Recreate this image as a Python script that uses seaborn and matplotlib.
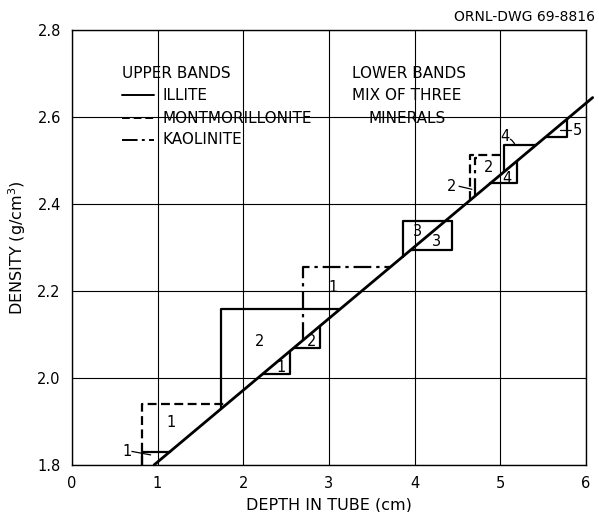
import numpy as np
import pandas as pd
import matplotlib
matplotlib.use("Agg")
import matplotlib.pyplot as plt
import seaborn as sns

# ---- data ----
# main density-gradient line (depth cm, density g/cm3)
line_x = [0.96, 6.08]
line_y = [1.80, 2.645]

# upper bands: vertical at x from line up to y, then horizontal to line (or to 'end')
upper_kind = ["ILLITE", "MONTMORILLONITE", "ILLITE", "KAOLINITE", "ILLITE",
              "MONTMORILLONITE", "KAOLINITE", "ILLITE"]
upper_x = [0.82, 0.82, 1.74, 2.70, 3.86, 4.65, 4.71, 5.05]
upper_y = [1.83, 1.94, 2.159, 2.255, 2.361, 2.513, 2.505, 2.536]
upper_end = [np.nan, np.nan, np.nan, np.nan, 4.44, 5.05, 4.73, np.nan]

# lower bands (mix of three minerals): horizontal at y from line to x, then vertical up
lower_y = [2.009, 2.069, 2.294, 2.448, 2.555]
lower_x = [2.55, 2.90, 4.44, 5.20, 5.78]
lower_top = [np.nan, np.nan, 2.361, np.nan, np.nan]

# band number labels
lab_text = ["1", "1", "2", "1", "2", "1", "3", "3", "2", "2", "4", "4", "5"]
lab_x = [0.645, 1.16, 2.19, 2.44, 2.80, 3.05, 4.03, 4.26, 4.43, 4.86, 5.08, 5.05, 5.90]
lab_y = [1.830, 1.897, 2.085, 2.025, 2.085, 2.207, 2.336, 2.313, 2.440, 2.485, 2.460, 2.555, 2.570]

x_ticks = [0, 1, 2, 3, 4, 5, 6]
y_ticks = [1.8, 2.0, 2.2, 2.4, 2.6, 2.8]

styles = {"ILLITE": "-", "MONTMORILLONITE": (0, (4, 2)), "KAOLINITE": (0, (8, 2.2, 1.5, 2.2))}

# ---- helpers ----
slope = (line_y[1] - line_y[0]) / (line_x[1] - line_x[0])
def line_at(x):
    return line_y[0] + slope * (x - line_x[0])
def x_at(y):
    return line_x[0] + (y - line_y[0]) / slope

sns.set_theme(style="white")
plt.rcParams['font.family'] = ['DejaVu Sans']
plt.rcParams['text.color'] = 'black'
plt.rcParams['axes.labelcolor'] = 'black'
plt.rcParams['xtick.color'] = 'black'
plt.rcParams['ytick.color'] = 'black'
fig = plt.figure(figsize=(5.99, 5.12), dpi=100)
ax = fig.add_axes([0.120, 0.092, 0.858, 0.849])

ax.set_xlim(0, 6)
ax.set_ylim(1.8, 2.8)
ax.set_xticks(x_ticks)
ax.set_yticks(y_ticks)
ax.set_xticklabels([str(v) for v in x_ticks], fontsize=10.5)
ax.set_yticklabels([f"{v:.1f}" for v in y_ticks], fontsize=10.5)
ax.tick_params(axis="x", length=0, pad=8, colors="black")
ax.tick_params(axis="y", length=0, pad=8, colors="black")
ax.grid(True, color="black", lw=0.8)
for s in ax.spines.values():
    s.set_color("black")
    s.set_linewidth(1.0)

df_line = pd.DataFrame({"x": line_x, "y": line_y})
sns.lineplot(data=df_line, x="x", y="y", ax=ax, color="black", lw=2.0,
             estimator=None, sort=False, clip_on=False)

for k, x0, y0, e in zip(upper_kind, upper_x, upper_y, upper_end):
    yb = max(line_at(x0), 1.8)
    xe = x_at(y0) if np.isnan(e) else e
    d = pd.DataFrame({"x": [x0, x0, xe], "y": [yb, y0, y0]})
    sns.lineplot(data=d, x="x", y="y", ax=ax, color="black", lw=1.6,
                 linestyle=styles[k], estimator=None, sort=False)

for y0, x1, t in zip(lower_y, lower_x, lower_top):
    xs = x_at(y0)
    yt = line_at(x1) if np.isnan(t) else t
    d = pd.DataFrame({"x": [xs, x1, x1], "y": [y0, y0, yt]})
    sns.lineplot(data=d, x="x", y="y", ax=ax, color="black", lw=1.6,
                 estimator=None, sort=False)

for t, x, y in zip(lab_text, lab_x, lab_y):
    ax.text(x, y, t, fontsize=10.5, ha="center", va="center", color="black")

# leader lines
ax.plot([0.70, 0.92], [1.831, 1.823], color="black", lw=0.9)
ax.plot([4.52, 4.67], [2.441, 2.434], color="black", lw=0.9)
ax.plot([5.70, 5.83], [2.571, 2.571], color="black", lw=0.9)
ax.annotate("", xy=(5.18, 2.53), xytext=(5.09, 2.552),
            arrowprops=dict(arrowstyle="-", color="black", lw=0.9,
                            connectionstyle="arc3,rad=-0.3"))

# legend text
ax.text(0.59, 2.70, "UPPER BANDS", fontsize=11, va="center", color="black")
leg_names = ["ILLITE", "MONTMORILLONITE", "KAOLINITE"]
leg_y = [2.650, 2.598, 2.548]
for nm, yy in zip(leg_names, leg_y):
    ax.plot([0.59, 0.96], [yy, yy], color="black", lw=1.4, linestyle=styles[nm])
    ax.text(1.06, yy, nm, fontsize=11, va="center", color="black")
ax.text(3.27, 2.70, "LOWER BANDS", fontsize=11, va="center", color="black")
ax.text(3.27, 2.650, "MIX OF THREE", fontsize=11, va="center", color="black")
ax.text(3.46, 2.598, "MINERALS", fontsize=11, va="center", color="black")

ax.set_xlabel("DEPTH IN TUBE (cm)", fontsize=11.5, labelpad=5, color="black")
ax.set_ylabel("DENSITY (g/cm$^3$)", fontsize=11.5, labelpad=7, color="black")
fig.text(0.993, 0.966, "ORNL-DWG 69-8816", fontsize=10, ha="right", va="center",
         color="black")

fig.savefig("out.png", dpi=100)
